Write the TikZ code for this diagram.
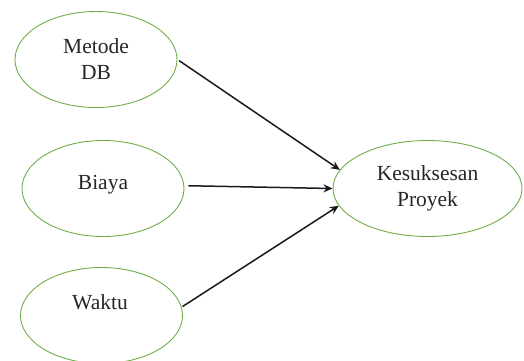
\documentclass[tikz,border=0pt]{standalone}
\usepackage{fontspec}
\setmainfont{Liberation Serif}
\usetikzlibrary{shapes.geometric,arrows.meta}
\definecolor{ellgreen}{HTML}{70AD47}
\definecolor{arrowblack}{HTML}{1A1A1A}
\tikzset{
  oval/.style={ellipse, draw=ellgreen, line width=0.9pt, inner sep=0pt,
    minimum width=162pt, minimum height=96pt, align=center,
    font=\fontsize{21.5pt}{26pt}\selectfont, text=black!85},
  lbl/.style={inner sep=0pt, font=\fontsize{21.5pt}{26pt}\selectfont, text=black!85},
  link/.style={draw=arrowblack, line width=1.5pt, -{Stealth[length=9pt,width=8pt]}}
}
\begin{document}
\begin{tikzpicture}[x=1pt,y=-1pt]
\useasboundingbox (0,0) rectangle (524,360);
\clip (0,0) rectangle (524,360);
\node[oval] (m) at (96,59.5) {Metode\\DB};
\node[oval] (b) at (103,188.5) {};
\node[lbl, anchor=base] (bt) at (103,189) {Biaya};
\node[oval] (w) at (101.5,315.5) {};
\node[lbl, anchor=base] (wt) at (100,309) {Waktu};
\node[oval, minimum width=189pt] (k) at (427.5,188.5) {Kesuksesan\\Proyek};
\draw[link, shorten <=2pt] (m.east) -- (k.168.8);
\draw[link, shorten <=4pt] (b.2.5) -- (k.west);
\draw[link, shorten <=1pt] (w.6) -- (k.191.2);
\end{tikzpicture}
\end{document}
